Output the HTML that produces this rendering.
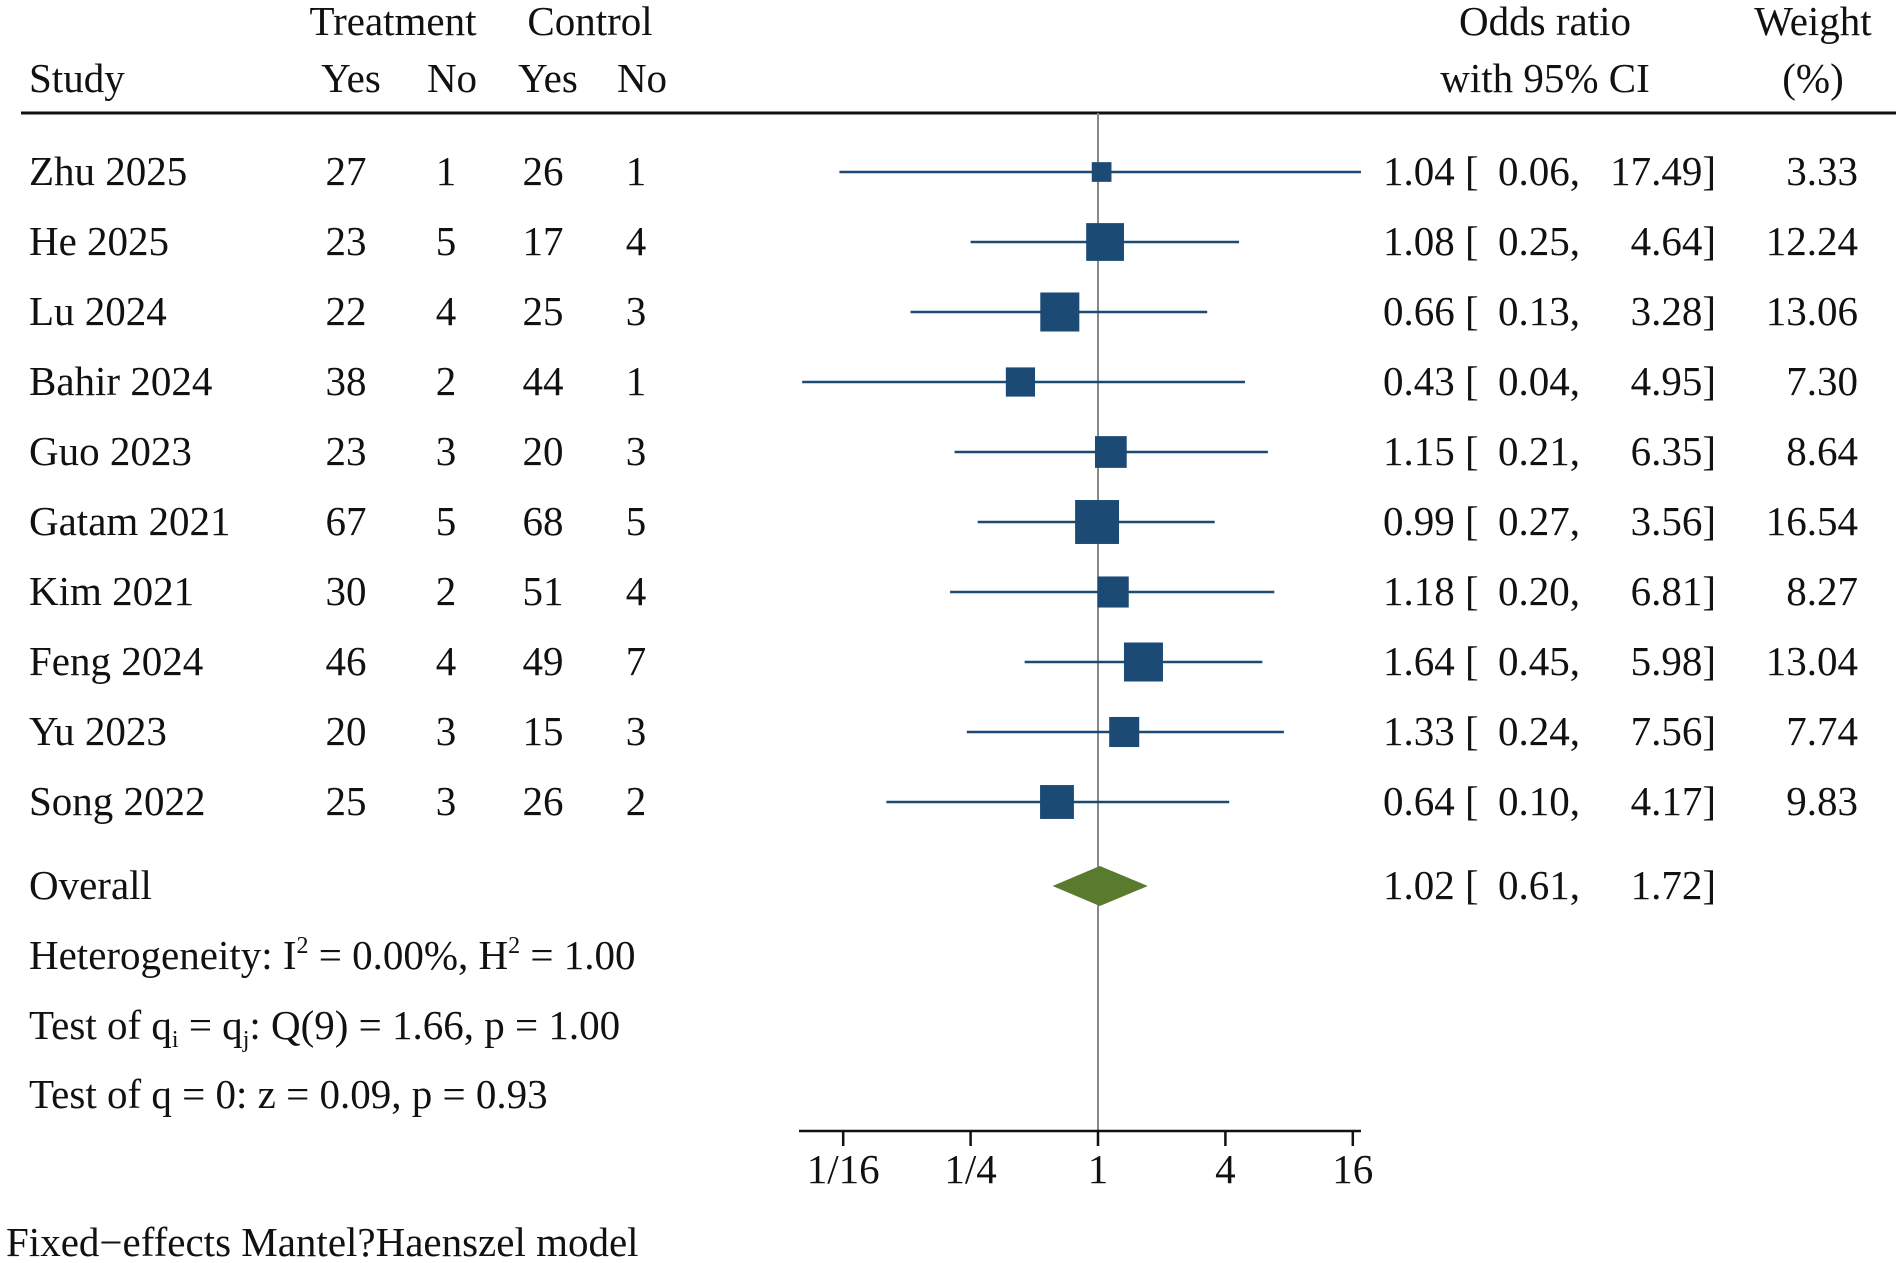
<!DOCTYPE html>
<html><head><meta charset="utf-8"><style>
body{margin:0;background:#fff}
svg{display:block}
text{font-family:"Liberation Serif",serif;font-size:41px;fill:#111}
</style></head><body>
<svg id="plot" width="1902" height="1263" viewBox="0 0 1902 1263" xmlns="http://www.w3.org/2000/svg">
<g>
<text x="393" y="35" text-anchor="middle">Treatment</text>
<text x="590" y="35" text-anchor="middle">Control</text>
<text x="29" y="92">Study</text>
<text x="351" y="92" text-anchor="middle">Yes</text>
<text x="452" y="92" text-anchor="middle">No</text>
<text x="548" y="92" text-anchor="middle">Yes</text>
<text x="642" y="92" text-anchor="middle">No</text>
<text x="1545" y="35" text-anchor="middle">Odds ratio</text>
<text x="1545" y="92" text-anchor="middle">with 95% CI</text>
<text x="1813" y="35" text-anchor="middle">Weight</text>
<text x="1813" y="92" text-anchor="middle">(%)</text>
<line x1="21" y1="113" x2="1896" y2="113" stroke="#111" stroke-width="3"/>
</g>
<line x1="1098" y1="113" x2="1098" y2="1131" stroke="#888" stroke-width="2"/>
<g id="rows"></g>
<g id="axis"></g>
<g>
<text x="29" y="899">Overall</text>
<text x="29" y="969">Heterogeneity: I<tspan dy="-16" font-size="24">2</tspan><tspan dy="16"> = 0.00%, H</tspan><tspan dy="-16" font-size="24">2</tspan><tspan dy="16"> = 1.00</tspan></text>
<text x="29" y="1039">Test of q<tspan dy="8" font-size="24">i</tspan><tspan dy="-8"> = q</tspan><tspan dy="8" font-size="24">j</tspan><tspan dy="-8">: Q(9) = 1.66, p = 1.00</tspan></text>
<text x="29" y="1108">Test of q = 0: z = 0.09, p = 0.93</text>
<text x="6" y="1256">Fixed−effects Mantel?Haenszel model</text>
</g>
</svg>
<script>
const studies=["Zhu 2025","He 2025","Lu 2024","Bahir 2024","Guo 2023","Gatam 2021","Kim 2021","Feng 2024","Yu 2023","Song 2022"];
const tYes=[27,23,22,38,23,67,30,46,20,25];
const tNo=[1,5,4,2,3,5,2,4,3,3];
const cYes=[26,17,25,44,20,68,51,49,15,26];
const cNo=[1,4,3,1,3,5,4,7,3,2];
const orVals=[1.04,1.08,0.66,0.43,1.15,0.99,1.18,1.64,1.33,0.64];
const lower=[0.06,0.25,0.13,0.04,0.21,0.27,0.20,0.45,0.24,0.10];
const upper=[17.49,4.64,3.28,4.95,6.35,3.56,6.81,5.98,7.56,4.17];
const weights=[3.33,12.24,13.06,7.30,8.64,16.54,8.27,13.04,7.74,9.83];
const overall=[1.02,0.61,1.72];
const tickVals=[1/16,1/4,1,4,16];
const tickLabels=["1/16","1/4","1","4","16"];
const NS="http://www.w3.org/2000/svg";
const xs=v=>1098+63.7*Math.log2(v);
const ys=i=>172+70*i;
function mk(tag,attrs,parent,txt){const e=document.createElementNS(NS,tag);for(const k in attrs)e.setAttribute(k,attrs[k]);if(txt!==undefined)e.textContent=txt;parent.appendChild(e);return e;}
const rows=document.getElementById('rows');
const f=v=>v.toFixed(2);
studies.forEach((s,i)=>{
  const y=ys(i),b=y+13;
  const g=mk('g',{},rows);
  
  
  let t=mk('text',{x:29,y:b},g,s);
  
  
  [[346,tYes[i]],[446,tNo[i]],[543,cYes[i]],[636,cNo[i]]].forEach(([x,v])=>{
    const c=mk('text',{x:x,y:b,'text-anchor':'middle'},g,String(v));
    
    
  });
  const ci=mk('line',{x1:xs(lower[i]),x2:xs(upper[i]),y1:y,y2:y,stroke:'#1b4a74','stroke-width':2.5},g);
  
  
  const sz=10.8*Math.sqrt(weights[i]);
  const sq=mk('rect',{x:xs(orVals[i])-sz/2,y:y-sz/2,width:sz,height:sz,fill:'#1b4a74'},g);
  
  
  const o=mk('text',{x:1383,y:b},g,f(orVals[i])+" [");
  
  
  const l=mk('text',{x:1580,y:b,'text-anchor':'end'},g,f(lower[i])+",");
  
  
  const u=mk('text',{x:1716,y:b,'text-anchor':'end'},g,f(upper[i])+"]");
  
  
  const w=mk('text',{x:1858,y:b,'text-anchor':'end'},g,f(weights[i]));
  
  
});
const oy=886;
const d=mk('polygon',{points:`${xs(overall[1])},${oy} ${xs(overall[0])},${oy-20} ${xs(overall[2])},${oy} ${xs(overall[0])},${oy+20}`,fill:'#5a7a2e'},rows);


let t1=mk('text',{x:1383,y:oy+13},rows,f(overall[0])+" [");


let t2=mk('text',{x:1580,y:oy+13,'text-anchor':'end'},rows,f(overall[1])+",");


let t3=mk('text',{x:1716,y:oy+13,'text-anchor':'end'},rows,f(overall[2])+"]");


const ax=document.getElementById('axis');


const al=mk('line',{x1:799,x2:1361,y1:1131,y2:1131,stroke:'#111','stroke-width':2.5},ax);


tickVals.forEach((v,i)=>{
  const tk=mk('line',{x1:xs(v),x2:xs(v),y1:1131,y2:1146,stroke:'#111','stroke-width':2.5},ax);
  
  
  const tl=mk('text',{x:xs(v),y:1183,'text-anchor':'middle'},ax,tickLabels[i]);
  
  
});
</script>
</body></html>
